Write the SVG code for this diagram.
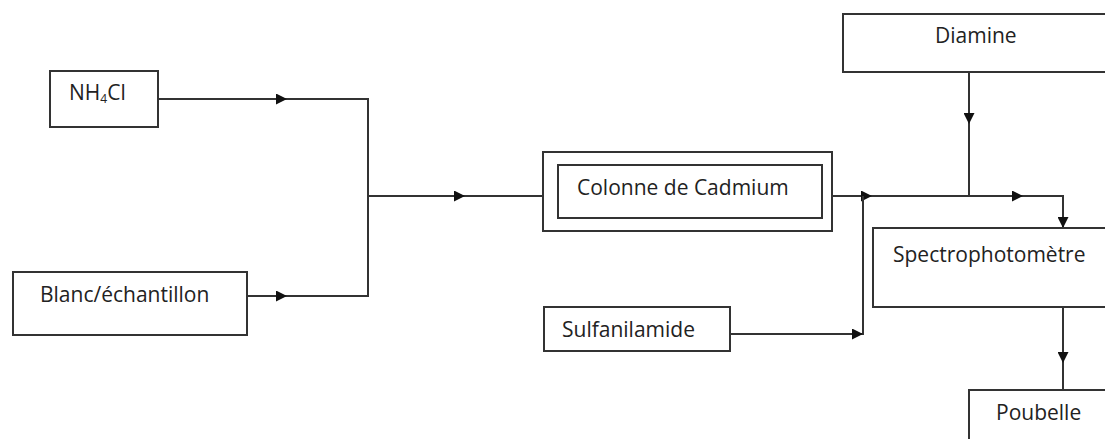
<svg xmlns="http://www.w3.org/2000/svg" width="1105" height="439" viewBox="0 0 1105 439">
<style>
.box{fill:#fff;stroke:#333;stroke-width:2}
.ln{fill:none;stroke:#333;stroke-width:2}
.t{font-family:"Open Sans","Noto Sans",sans-serif;font-size:21px;fill:#222}
</style>
<defs>
<marker id="ar" viewBox="0 0 10 10" refX="10" refY="5" markerWidth="14" markerHeight="11" markerUnits="userSpaceOnUse" orient="auto">
<path d="M0,0 L10,5 L0,10 z" fill="#111"/>
</marker>
</defs>
<rect width="1105" height="439" fill="#fff"/>
<g id="connectors">
<path class="ln" d="M158,99 H368 V296 H247"/>
<path class="ln" d="M158,99 H287" marker-end="url(#ar)"/>
<path class="ln" d="M247,296 H287" marker-end="url(#ar)"/>
<path class="ln" d="M368,196 H543"/>
<path class="ln" d="M430,196 H465" marker-end="url(#ar)"/>
<path class="ln" d="M832,196 H1063 V228"/>
<path class="ln" d="M840,196 H872" marker-end="url(#ar)"/>
<path class="ln" d="M990,196 H1023" marker-end="url(#ar)"/>
<path class="ln" d="M1063,196 V228" marker-end="url(#ar)"/>
<path class="ln" d="M730,334 H863 V196"/>
<path class="ln" d="M730,334 H863" marker-end="url(#ar)"/>
<path class="ln" d="M969,72 V196"/>
<path class="ln" d="M969,72 V124" marker-end="url(#ar)"/>
<path class="ln" d="M1063,307 V390"/>
<path class="ln" d="M1063,307 V363" marker-end="url(#ar)"/>
</g>
<g id="nh4cl">
<rect class="box" x="50" y="71" width="108" height="56"/>
<text class="t" x="69" y="100">NH<tspan font-size="12" dy="3">4</tspan><tspan dy="-3">Cl</tspan></text>
</g>
<g id="blanc">
<rect class="box" x="13" y="272" width="234" height="63"/>
<text class="t" x="40" y="302">Blanc/échantillon</text>
</g>
<g id="colonne">
<rect class="box" x="543" y="152" width="289" height="79"/>
<rect class="box" x="558" y="165" width="264" height="53"/>
<text class="t" x="577" y="195">Colonne de Cadmium</text>
</g>
<g id="sulfanilamide">
<rect class="box" x="544" y="307" width="186" height="44"/>
<text class="t" x="562" y="337">Sulfanilamide</text>
</g>
<g id="diamine">
<rect class="box" x="843" y="14" width="270" height="58"/>
<text class="t" x="935" y="43">Diamine</text>
</g>
<g id="spectro">
<rect class="box" x="873" y="228" width="240" height="79"/>
<text class="t" x="893" y="262">Spectrophotomètre</text>
</g>
<g id="poubelle">
<rect class="box" x="969" y="390" width="144" height="60"/>
<text class="t" x="996" y="420">Poubelle</text>
</g>
</svg>
